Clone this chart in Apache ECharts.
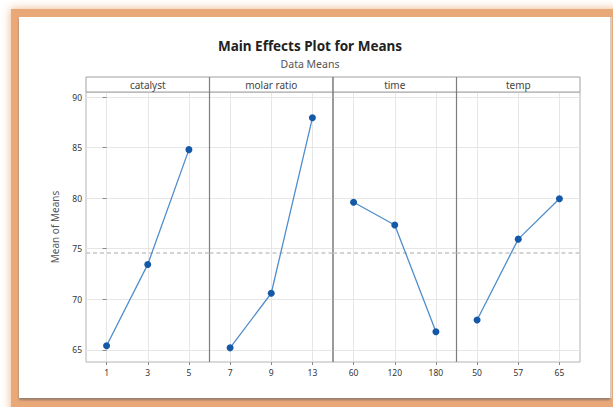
<!DOCTYPE html>
<html>
<head>
<meta charset="utf-8">
<script src="https://cdn.jsdelivr.net/npm/echarts@6/dist/echarts.min.js"></script>
<style>
  html, body { margin: 0; padding: 0; background: #ffffff; }
  #chart { width: 613px; height: 407px; }
</style>
</head>
<body>
<div id="chart"></div>
<script>
// Factor names shown in the panel strips
const factorNames = ['catalyst', 'molar ratio', 'time', 'temp'];

// Levels of each factor (x tick labels)
const catalystLevels = ['1', '3', '5'];
const molarLevels = ['7', '9', '13'];
const timeLevels = ['60', '120', '180'];
const tempLevels = ['50', '57', '65'];

// Mean response at each level
const catalystMeans = [65.4, 73.45, 84.8];
const molarMeans = [65.2, 70.6, 87.95];
const timeMeans = [79.6, 77.35, 66.8];
const tempMeans = [67.95, 75.95, 79.95];

// Y axis tick labels
const yTicks = [65, 70, 75, 80, 85, 90];

const levelSets = [catalystLevels, molarLevels, timeLevels, tempLevels];
const meanSets = [catalystMeans, molarMeans, timeMeans, tempMeans];

// Grand mean of all data means (dashed reference line)
const allMeans = [].concat(catalystMeans, molarMeans, timeMeans, tempMeans);
const grandMean = allMeans.reduce((a, b) => a + b, 0) / allMeans.length;

// Panel geometry
const panelLeft = 86;
const panelW = 123.5;
const panelTop = 92;
const panelH = 270;
const stripTop = 77;
const yMin = 63.8;
const yMax = 90.5;

const FONT = 'Noto Sans';
const lineColor = '#4f8dcb';
const pointColor = '#1458a8';

const grids = [], xAxes = [], yAxes = [], series = [], graphics = [];

// Outer peach frame and white page
graphics.push({
  type: 'rect', z: -10, silent: true,
  shape: { x: 11, y: 9, width: 640, height: 420 },
  style: { fill: '#e9a878', shadowBlur: 10, shadowColor: 'rgba(236,170,120,0.9)' }
});
graphics.push({
  type: 'rect', z: -9, silent: true,
  shape: { x: 19, y: 17, width: 591, height: 381 },
  style: { fill: '#ffffff', shadowBlur: 2, shadowOffsetY: 2, shadowColor: 'rgba(90,90,100,0.6)' }
});
graphics.push({
  type: 'line', z: -8, silent: true,
  shape: { x1: 611, y1: 17, x2: 611, y2: 398 },
  style: { stroke: '#d8dbe2', lineWidth: 1.5 }
});

levelSets.forEach((levels, i) => {
  const left = panelLeft + i * panelW;
  grids.push({
    left: left, top: panelTop, width: panelW, height: panelH,
    show: true, borderColor: '#b4b4b4', borderWidth: 1, backgroundColor: 'transparent'
  });
  xAxes.push({
    type: 'value', gridIndex: i, min: -0.5, max: 2.5,
    axisLine: { show: false },
    axisTick: { show: true, length: 3, customValues: [0, 1, 2], lineStyle: { color: '#888' } },
    axisLabel: {
      customValues: [0, 1, 2], margin: 6, fontSize: 8.5, color: '#333', fontFamily: FONT,
      formatter: (v) => levels[Math.round(v)]
    },
    splitLine: { show: true, lineStyle: { color: '#e6e6e6', width: 1 } }
  });
  yAxes.push({
    type: 'value', gridIndex: i, min: yMin, max: yMax,
    name: i === 0 ? 'Mean of Means' : '',
    nameLocation: 'middle', nameGap: 26,
    nameTextStyle: { fontSize: 10, color: '#555', fontFamily: FONT },
    axisLine: { show: false },
    axisTick: { show: i === 0, length: 4, customValues: yTicks, lineStyle: { color: '#888' } },
    axisLabel: { show: i === 0, customValues: yTicks, margin: 4, fontSize: 8.5, color: '#333', fontFamily: FONT },
    splitLine: { show: true, lineStyle: { color: '#e6e6e6', width: 1 } }
  });
  series.push({
    type: 'line', xAxisIndex: i, yAxisIndex: i, z: 5,
    data: meanSets[i].map((v, k) => [k, v]),
    symbol: 'circle', symbolSize: 7,
    itemStyle: { color: pointColor },
    lineStyle: { color: lineColor, width: 1.3 },
    markLine: {
      silent: true, symbol: 'none', label: { show: false },
      lineStyle: { color: '#c6c6c6', type: [4, 3], width: 1.5 },
      data: [{ yAxis: grandMean }]
    }
  });
  // Strip header with factor name
  graphics.push({
    type: 'rect', silent: true, z: 1,
    shape: { x: left, y: stripTop, width: panelW, height: panelTop - stripTop },
    style: { fill: '#ffffff', stroke: '#a0a0a0', lineWidth: 1 }
  });
  graphics.push({
    type: 'text', silent: true, z: 2,
    x: left + panelW / 2, y: stripTop + (panelTop - stripTop) / 2,
    style: {
      text: factorNames[i], fontSize: 10, fontFamily: FONT, fill: '#444',
      align: 'center', verticalAlign: 'middle'
    }
  });
  // Dark panel separators
  if (i > 0) {
    graphics.push({
      type: 'line', silent: true, z: 3,
      shape: { x1: left, y1: stripTop, x2: left, y2: panelTop + panelH },
      style: { stroke: '#7d7d7d', lineWidth: 1.2 }
    });
  }
});

const chart = echarts.init(document.getElementById('chart'), null, { renderer: 'svg' });
chart.setOption({
  animation: false,
  backgroundColor: '#ffffff',
  title: [
    {
      text: 'Main Effects Plot for Means', left: 305, top: 34, textAlign: 'center',
      textStyle: { fontSize: 13.5, fontWeight: 'bold', color: '#222', fontFamily: FONT }
    },
    {
      text: 'Data Means', left: 305, top: 53, textAlign: 'center',
      textStyle: { fontSize: 10.5, fontWeight: 'normal', color: '#555', fontFamily: FONT }
    }
  ],
  grid: grids,
  xAxis: xAxes,
  yAxis: yAxes,
  series: series,
  graphic: graphics
});
</script>
</body>
</html>
